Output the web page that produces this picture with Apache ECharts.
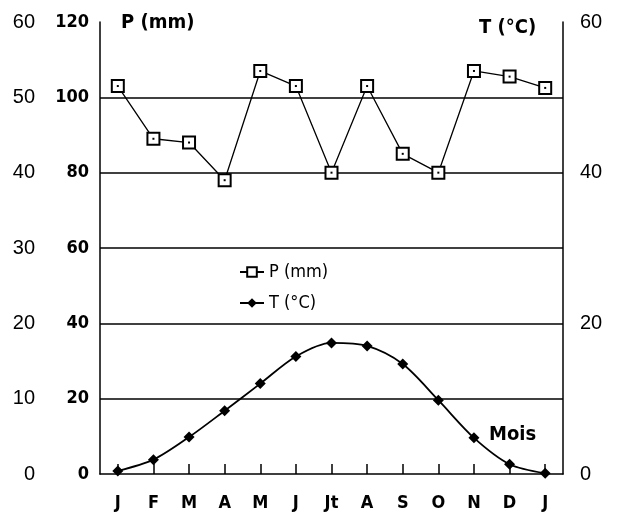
<!DOCTYPE html>
<html>
<head>
<meta charset="utf-8">
<script src="https://cdn.jsdelivr.net/npm/echarts@6/dist/echarts.min.js"></script>
<style>
	html, body { margin: 0; padding: 0; background: #fff; }
	#chart { width: 620px; height: 514px; }
</style>
</head>
<body>
<div id="chart"></div>
<script>
var mois = ['J', 'F', 'M', 'A', 'M', 'J', 'Jt', 'A', 'S', 'O', 'N', 'D', 'J'];
var precip = [103, 89, 88, 78, 107, 103, 80, 103, 85, 80, 107, 105.5, 102.5];
var temp = [0.4, 1.9, 4.9, 8.4, 12, 15.6, 17.4, 17, 14.6, 9.8, 4.8, 1.3, 0.1];
var ticksP = [0, 20, 40, 60, 80, 100, 120];
var ticksT = [0, 10, 20, 30, 40, 50, 60];

var narrow = '"Liberation Sans Narrow", "DejaVu Sans Condensed", sans-serif';
var plain = '"Liberation Sans", Arial, sans-serif';

function dessiner() {
	var chart = echarts.init(document.getElementById('chart'));
	chart.setOption({
		animation: false,
		backgroundColor: '#fff',
		grid: { left: 100, right: 57, top: 22, bottom: 40 },
		title: [
			{ text: 'P (mm)', left: 116, top: 8, textStyle: { fontFamily: narrow, fontSize: 20, fontWeight: 'bold', color: '#000' } },
			{ text: 'T (°C)', left: 474, top: 13, textStyle: { fontFamily: narrow, fontSize: 20, fontWeight: 'bold', color: '#000' } },
			{ text: 'Mois', left: 484, top: 420, textStyle: { fontFamily: narrow, fontSize: 20, fontWeight: 'bold', color: '#000' } }
		],
		legend: {
			orient: 'vertical',
			left: 234,
			top: 258,
			itemWidth: 24,
			itemHeight: 12,
			itemGap: 13,
			data: ['P (mm)', 'T (°C)'],
			textStyle: { fontFamily: narrow, fontSize: 18, color: '#000' }
		},
		xAxis: {
			type: 'category',
			data: mois,
			boundaryGap: true,
			axisLine: { lineStyle: { color: '#000', width: 1.5 } },
			axisTick: { show: true, inside: true, length: 10, alignWithLabel: true, interval: 0, lineStyle: { color: '#000', width: 1.5 } },
			axisLabel: { interval: 0, margin: 20, fontFamily: narrow, fontSize: 18, fontWeight: 'bold', color: '#000' },
			splitLine: { show: false }
		},
		yAxis: [
			{
				type: 'value', position: 'left', min: ticksP[0], max: ticksP[ticksP.length - 1], interval: 20,
				axisLine: { show: true, lineStyle: { color: '#000', width: 1.5 } },
				axisTick: { show: false },
				axisLabel: { margin: 11, fontFamily: narrow, fontSize: 18, fontWeight: 'bold', color: '#000' },
				splitLine: { show: true, showMinLine: false, showMaxLine: false, lineStyle: { color: '#000', width: 1.5 } }
			},
			{
				type: 'value', position: 'left', offset: 55, min: ticksT[0], max: ticksT[ticksT.length - 1], interval: 10,
				axisLine: { show: false },
				axisTick: { show: false },
				axisLabel: { margin: 10, fontFamily: plain, fontSize: 20, color: '#000' },
				splitLine: { show: false }
			},
			{
				type: 'value', position: 'right', min: ticksT[0], max: ticksT[ticksT.length - 1], interval: 20,
				axisLine: { show: true, lineStyle: { color: '#000', width: 1.5 } },
				axisTick: { show: false },
				axisLabel: { margin: 17, fontFamily: plain, fontSize: 20, color: '#000' },
				splitLine: { show: false }
			}
		],
		series: [
			{
				name: 'P (mm)',
				type: 'line',
				yAxisIndex: 0,
				data: precip,
				symbol: 'rect',
				symbolSize: 12,
				lineStyle: { color: '#000', width: 1.3 },
				itemStyle: { color: '#fff', borderColor: '#000', borderWidth: 2 },
				z: 3
			},
			{
				name: 'P-point',
				type: 'line',
				yAxisIndex: 0,
				data: precip,
				symbol: 'rect',
				symbolSize: 2,
				lineStyle: { opacity: 0 },
				itemStyle: { color: '#000' },
				silent: true,
				z: 4
			},
			{
				name: 'T (°C)',
				type: 'line',
				yAxisIndex: 2,
				data: temp,
				smooth: 0.3,
				symbol: 'diamond',
				symbolSize: 11,
				lineStyle: { color: '#000', width: 1.8 },
				itemStyle: { color: '#000' },
				z: 3
			}
		]
	});
}

dessiner();
</script>
</body>
</html>
